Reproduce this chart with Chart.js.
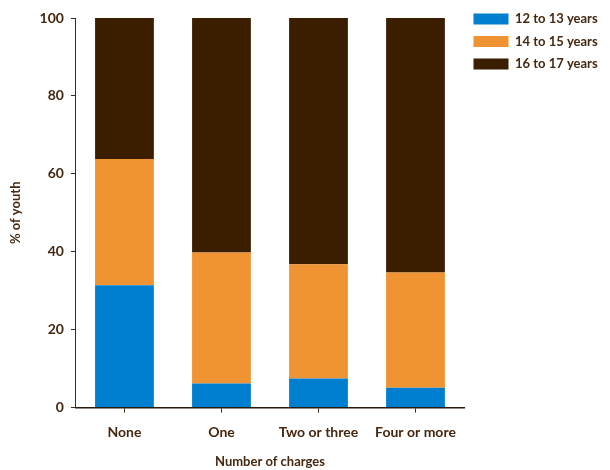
<!DOCTYPE html>
<html><head><meta charset="utf-8">
<script src="https://cdn.jsdelivr.net/npm/chart.js@4"></script>
<style>html,body{margin:0;padding:0;background:#fff}#wrap{width:610px;height:470px}</style>
</head><body><div id="wrap"><canvas id="c" width="610" height="470"></canvas></div>
<script>
const categories = ["None", "One", "Two or three", "Four or more"];
const age12to13 = [31.4, 6.2, 7.5, 5.1];
const age14to15 = [32.4, 33.6, 29.3, 29.6];
const age16to17 = [36.2, 60.2, 63.2, 65.3];
const yTicks = [0, 20, 40, 60, 80, 100];
const seriesNames = ["12 to 13 years", "14 to 15 years", "16 to 17 years"];

const txt = '#45280f';
const fontFam = 'Lato, "Open Sans", sans-serif';
Chart.defaults.font.family = fontFam;
Chart.defaults.font.weight = 'bold';
Chart.defaults.color = txt;

const legendFix = {
  id: 'legendFix',
  afterInit(chart) {
    const lg = chart.legend;
    const orig = lg.fit;
    lg.fit = function() { orig.call(this); this.width = 146; };
  },
  afterLayout(chart) {
    chart.legend.top -= 15;
  }
};

new Chart(document.getElementById('c'), {
  type: 'bar',
  data: {
    labels: categories,
    datasets: [
      {label: seriesNames[0], data: age12to13, backgroundColor: '#007ecf'},
      {label: seriesNames[1], data: age14to15, backgroundColor: '#ef9333'},
      {label: seriesNames[2], data: age16to17, backgroundColor: '#3b1e00'}
    ]
  },
  plugins: [legendFix],
  options: {
    responsive: false,
    animation: false,
    devicePixelRatio: 1,
    layout: {padding: {top: 18, left: 8, right: 0, bottom: 0}},
    datasets: {bar: {barPercentage: 0.606, categoryPercentage: 1.0}},
    plugins: {
      legend: {
        position: 'right', align: 'start',
        labels: {boxWidth: 35, boxHeight: 11, padding: 9.5, font: {size: 13, weight: 'bold'}, color: txt}
      },
      tooltip: {enabled: false}
    },
    scales: {
      x: {
        stacked: true,
        grid: {display: true, drawOnChartArea: false, offset: false, tickLength: 5, color: '#3b2a1a'},
        border: {display: true, color: '#2a1a0a', width: 1.5},
        ticks: {font: {size: 14, weight: 'bold'}, color: txt, padding: 11},
        title: {display: true, text: 'Number of charges', font: {size: 13, weight: 'bold'}, color: txt, padding: {top: 3, bottom: 0}}
      },
      y: {
        stacked: true, min: 0, max: 100,
        afterBuildTicks: (s) => { s.ticks = yTicks.map(v => ({value: v})); },
        grid: {display: true, drawOnChartArea: false, tickLength: 5, color: '#3b2a1a'},
        border: {display: true, color: '#3b2a1a', width: 1},
        ticks: {font: {size: 14, weight: 'bold'}, color: txt, padding: 7},
        title: {display: true, text: '% of youth', font: {size: 13, weight: 'bold'}, color: txt, padding: {top: 0, bottom: 9}}
      }
    }
  }
});
</script></body></html>
